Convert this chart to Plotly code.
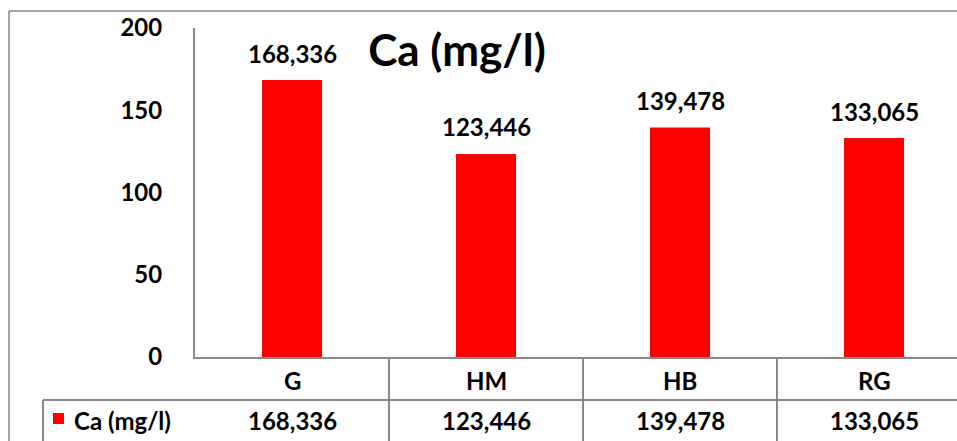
import plotly.graph_objects as go

# ---------------- data ----------------
categories = ["G", "HM", "HB", "RG"]
ca_values = [168.336, 123.446, 139.478, 133.065]
series_name = "Ca (mg/l)"
chart_title = "Ca (mg/l)"
y_ticks = [0, 50, 100, 150, 200]


def fmt(v):
    return f"{v:.3f}".replace(".", ",")


# ---------------- layout geometry ----------------
W, H = 957, 441
L, R, T, B = 195, 0, 28, 84
plot_w = W - L - R
plot_h = H - T - B
cat_px = 194.0
x_lo = -0.5
x_hi = x_lo + plot_w / cat_px

GRID = "#898989"
FONT = "Lato"


def px_x(px):
    return (px - L) / plot_w


def px_y(py):
    return (H - B - py) / plot_h


def data_to_paper_x(xd):
    return (xd - x_lo) / (x_hi - x_lo)


fig = go.Figure()
fig.add_trace(
    go.Bar(
        x=categories,
        y=ca_values,
        name=series_name,
        marker=dict(color="#FF0000", line=dict(width=0)),
        width=0.31,
        hoverinfo="x+y",
    )
)

shapes = []
line_style = dict(color=GRID, width=2)
right_edge = 1.0
bottom = px_y(H)
# outer chart border (top & left visible)
shapes.append(dict(type="line", xref="paper", yref="paper", x0=px_x(9), x1=right_edge,
                   y0=px_y(11), y1=px_y(11), line=dict(color=GRID, width=1.5)))
shapes.append(dict(type="line", xref="paper", yref="paper", x0=px_x(9), x1=px_x(9),
                   y0=px_y(11), y1=bottom, line=dict(color=GRID, width=1.5)))

# data table grid
row1 = px_y(400)
# vertical separators at category boundaries (inside the visible area)
for i in range(1, len(categories)):
    xp = data_to_paper_x(i - 0.5)
    shapes.append(dict(type="line", xref="paper", yref="paper", x0=xp, x1=xp,
                       y0=0, y1=bottom, line=line_style))
# horizontal line between category row and value row
shapes.append(dict(type="line", xref="paper", yref="paper", x0=px_x(43), x1=right_edge,
                   y0=row1, y1=row1, line=line_style))
# legend cell left edge
shapes.append(dict(type="line", xref="paper", yref="paper", x0=px_x(43), x1=px_x(43),
                   y0=row1, y1=bottom, line=line_style))
# legend key
shapes.append(dict(type="rect", xref="paper", yref="paper", x0=px_x(53), x1=px_x(64),
                   y0=px_y(413), y1=px_y(424), fillcolor="#FF0000", line=dict(width=0)))

annotations = []
lab_font = dict(family=FONT, size=24, color="black", weight="bold")
# data labels above bars
for c, v in zip(categories, ca_values):
    annotations.append(dict(x=c, y=v, xref="x", yref="y", text=fmt(v), showarrow=False,
                            yshift=27, font=lab_font, yanchor="middle"))
# category row
for c in categories:
    annotations.append(dict(x=c, y=px_y(380), xref="x", yref="paper", text=c, showarrow=False,
                            font=lab_font, yanchor="middle"))
# value row
for c, v in zip(categories, ca_values):
    annotations.append(dict(x=c, y=px_y(420), xref="x", yref="paper", text=fmt(v), showarrow=False,
                            font=lab_font, yanchor="middle"))
# legend label in table
annotations.append(dict(x=px_x(72), y=px_y(420), xref="paper", yref="paper", text=series_name,
                        showarrow=False, font=lab_font, xanchor="left", yanchor="middle"))

fig.update_layout(
    width=W,
    height=H,
    autosize=False,
    margin=dict(l=L, r=R, t=T, b=B, pad=0),
    paper_bgcolor="white",
    plot_bgcolor="white",
    showlegend=False,
    bargap=0.69,
    title=dict(text=chart_title, x=457 / W, xanchor="center", y=1 - 51 / H, yanchor="middle",
               xref="container", yref="container",
               font=dict(family=FONT, size=44, color="black", weight="bold")),
    xaxis=dict(type="category", range=[x_lo, x_hi], showticklabels=False, ticks="",
               showline=True, linecolor=GRID, linewidth=2, showgrid=False, zeroline=False,
               fixedrange=True),
    yaxis=dict(range=[0, 200], tickvals=y_ticks, ticktext=[str(t) for t in y_ticks],
               showline=True, linecolor=GRID, linewidth=2, showgrid=False, zeroline=False,
               ticks="", ticklabelstandoff=26,
               tickfont=dict(family=FONT, size=24, color="black", weight="bold"),
               fixedrange=True),
    shapes=shapes,
    annotations=annotations,
)

fig.write_html(
    "out.html",
    config={"displayModeBar": False},
    post_script=(
        "document.documentElement.style.overflow='hidden';"
        "document.body.style.margin='0';"
        "document.body.style.overflow='hidden';"
    ),
)
